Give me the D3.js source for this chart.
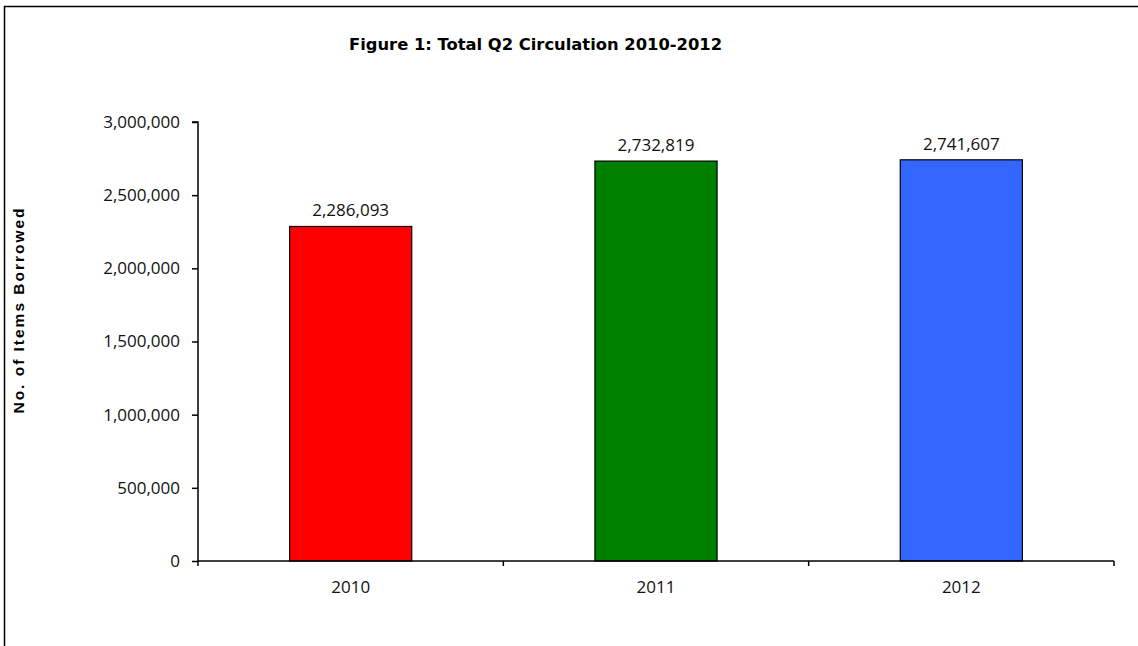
<!DOCTYPE html>
<html>
<head>
<meta charset="utf-8">
<script src="https://cdn.jsdelivr.net/npm/d3@7"></script>
<style>
  html, body { margin: 0; padding: 0; background: #fff; }
  svg { display: block; }
</style>
</head>
<body>
<svg id="chart" width="1138" height="646"></svg>
<script>
const categories = ["2010", "2011", "2012"];
const values = [2286093, 2732819, 2741607];
const colors = ["#FF0000", "#008000", "#3366FF"];
const yTicks = [0, 500000, 1000000, 1500000, 2000000, 2500000, 3000000];
const title = "Figure 1: Total Q2 Circulation 2010-2012";
const yTitle = "No. of Items Borrowed";

const svg = d3.select("#chart");
const plot = { left: 198, right: 1114, top: 122, bottom: 561 };

// outer frame (clipped at right/bottom as in reference)
svg.append("rect")
  .attr("x", 4.5).attr("y", 6.5)
  .attr("width", 1300).attr("height", 800)
  .attr("fill", "none").attr("stroke", "#000").attr("stroke-width", 1.5);

const x = d3.scaleBand().domain(categories).range([plot.left, plot.right]).paddingInner(0).paddingOuter(0);
const y = d3.scaleLinear().domain([0, 3000000]).range([plot.bottom, plot.top]);
const fmt = d3.format(",");
const font = "'Open Sans', 'Noto Sans', sans-serif";
const fs = 17;

// bars
const barW = x.bandwidth() * 0.4;
svg.append("g").selectAll("rect").data(values).join("rect")
  .attr("x", (d, i) => x(categories[i]) + (x.bandwidth() - barW) / 2)
  .attr("y", d => y(d))
  .attr("width", barW)
  .attr("height", d => y(0) - y(d))
  .attr("fill", (d, i) => colors[i])
  .attr("stroke", "#000").attr("stroke-width", 1.2);

// value labels
svg.append("g").selectAll("text").data(values).join("text")
  .attr("x", (d, i) => x(categories[i]) + x.bandwidth() / 2)
  .attr("y", d => y(d) - 10)
  .attr("text-anchor", "middle")
  .attr("font-family", font).attr("font-size", fs)
  .attr("fill", "#111")
  .text(d => fmt(d));

// y axis
const yAxis = d3.axisLeft(y).tickValues(yTicks).tickFormat(fmt).tickSize(6).tickPadding(12);
const gy = svg.append("g").attr("transform", `translate(${plot.left},0)`).call(yAxis);
gy.select(".domain").attr("stroke", "#000").attr("stroke-width", 1.5).attr("d", `M-6,${plot.top}H0V${plot.bottom}`);
gy.selectAll(".tick line").attr("stroke", "#000").attr("stroke-width", 1.5);
gy.selectAll(".tick text").attr("font-family", font).attr("font-size", fs).attr("fill", "#111");

// x axis with ticks at category boundaries
const gx = svg.append("g").attr("transform", `translate(0,${plot.bottom})`);
gx.append("line").attr("x1", plot.left).attr("x2", plot.right).attr("y1", 0).attr("y2", 0)
  .attr("stroke", "#000").attr("stroke-width", 1.5);
const boundaries = categories.map(c => x(c)).concat([x(categories[categories.length - 1]) + x.bandwidth()]);
gx.selectAll("line.b").data(boundaries).join("line").attr("class", "b")
  .attr("x1", d => d).attr("x2", d => d).attr("y1", 0).attr("y2", 5)
  .attr("stroke", "#000").attr("stroke-width", 1.5);
gx.selectAll("text").data(categories).join("text")
  .attr("x", d => x(d) + x.bandwidth() / 2)
  .attr("y", 32)
  .attr("text-anchor", "middle")
  .attr("font-family", font).attr("font-size", fs).attr("fill", "#111")
  .text(d => d);

// title
svg.append("text")
  .attr("x", 535.5).attr("y", 50)
  .attr("text-anchor", "middle")
  .attr("font-family", "'DejaVu Sans', sans-serif").attr("font-size", 16).attr("font-weight", "bold")
  .attr("textLength", 373).attr("lengthAdjust", "spacingAndGlyphs")
  .attr("fill", "#000")
  .text(title);

// y title
svg.append("text")
  .attr("transform", "translate(24,311) rotate(-90)")
  .attr("text-anchor", "middle")
  .attr("font-family", "'Liberation Sans', Arial, sans-serif").attr("font-size", 15.5).attr("font-weight", "bold")
  .attr("textLength", 205).attr("lengthAdjust", "spacing")
  .attr("fill", "#000")
  .text(yTitle);
</script>
</body>
</html>
